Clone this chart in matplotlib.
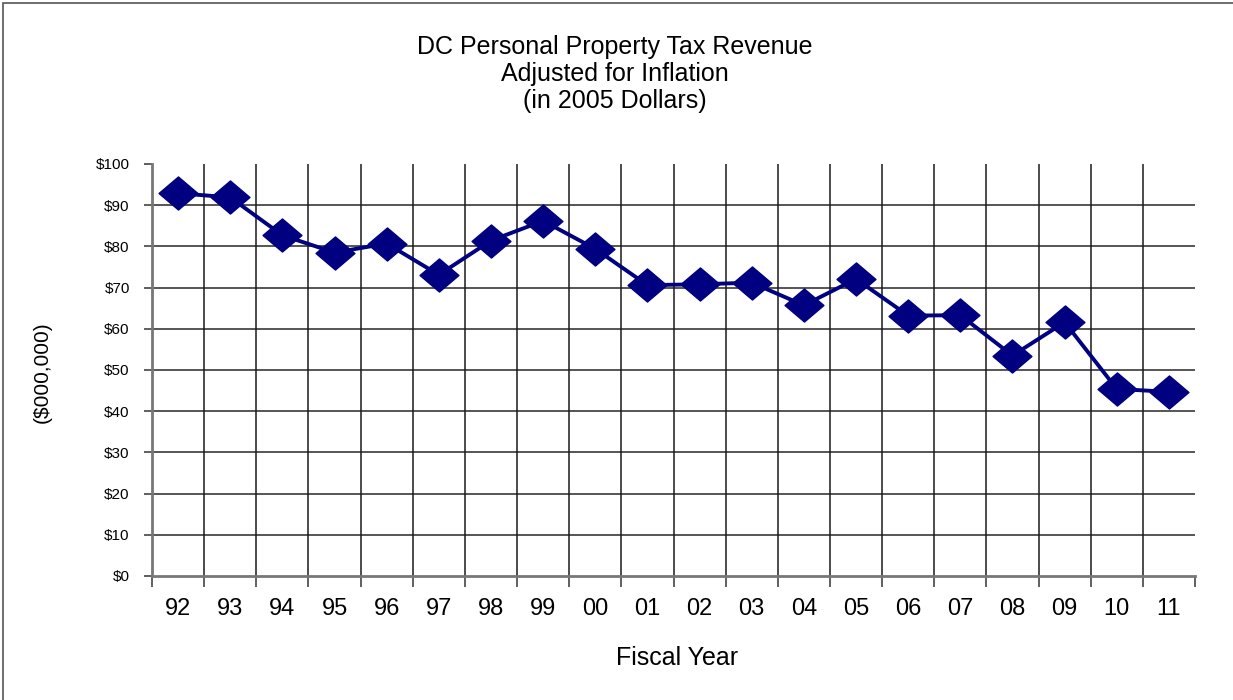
import matplotlib
matplotlib.use("Agg")
import matplotlib.pyplot as plt
from matplotlib.path import Path
from matplotlib.patches import Rectangle
import numpy as np

plt.rcParams['font.family'] = ['Liberation Sans', 'DejaVu Sans']

# Fiscal years and revenue (millions of 2005 dollars)
years = ["92", "93", "94", "95", "96", "97", "98", "99", "00", "01",
         "02", "03", "04", "05", "06", "07", "08", "09", "10", "11"]
revenue = [92.9, 91.9, 82.7, 78.5, 80.7, 73.1, 81.4, 86.2, 79.4, 70.6,
           70.8, 71.2, 65.7, 72.1, 63.2, 63.3, 53.5, 61.6, 45.4, 44.7]
y_ticks = [0, 10, 20, 30, 40, 50, 60, 70, 80, 90, 100]
y_tick_labels = ["$" + str(v) for v in y_ticks]

W, H = 1233, 700
fig = plt.figure(figsize=(W / 100, H / 100), dpi=100)
ax = fig.add_axes([152 / W, 124 / H, (1195 - 152) / W, (576 - 164) / H])

n = len(years)
centers = np.arange(n) + 0.5
bounds = np.arange(n + 1)

# wide diamond marker
diamond = Path([(-1, 0), (0, 0.85), (1, 0), (0, -0.85), (-1, 0)],
               [Path.MOVETO, Path.LINETO, Path.LINETO, Path.LINETO, Path.CLOSEPOLY])

navy = "#000080"
ax.plot(centers, revenue, color=navy, lw=2.8, marker=diamond,
        markersize=28, markerfacecolor=navy, markeredgecolor=navy, zorder=5,
        clip_on=False)

ax.set_xlim(0, n)
ax.set_ylim(0, 100)

# horizontal gridlines (no line at the top value)
for v in y_ticks[1:-1]:
    ax.axhline(v, color="#555555", lw=1.4, zorder=1)
# vertical gridlines between categories
for b in bounds[1:-1]:
    ax.axvline(b, color="#1a1a1a", lw=1.1, zorder=1)

for s in ["top", "right"]:
    ax.spines[s].set_visible(False)
for s in ["left", "bottom"]:
    ax.spines[s].set_color("#777777")
    ax.spines[s].set_linewidth(2)

ax.set_yticks(y_ticks)
ax.set_yticklabels(y_tick_labels, fontsize=11)
ax.tick_params(axis="y", direction="out", length=6, width=1.2, color="#444444", pad=10)

ax.set_xticks(bounds)
ax.set_xticklabels([])
ax.set_xticks(centers, minor=True)
ax.set_xticklabels(years, minor=True, fontsize=17)
ax.tick_params(axis="x", which="major", direction="out", length=8, width=1.2, color="#444444")
ax.tick_params(axis="x", which="minor", length=0, pad=16)

fig.text(615 / W, 1 - 74 / H,
         "DC Personal Property Tax Revenue\nAdjusted for Inflation\n(in 2005 Dollars)",
         ha="center", va="center", fontsize=18, linespacing=1.17)
fig.text(677 / W, 1 - 658 / H, "Fiscal Year", ha="center", va="center", fontsize=18)
fig.text(42 / W, 1 - 372 / H, "($000,000)", ha="center", va="center",
         rotation=90, fontsize=15)

# frame around the chart area
fig.patches.append(Rectangle((3 / W, -0.1), 1.2, 1 - 3 / H + 0.1,
                             transform=fig.transFigure, fill=False,
                             edgecolor="#555555", lw=1.2))

fig.savefig("out.png", dpi=100)
